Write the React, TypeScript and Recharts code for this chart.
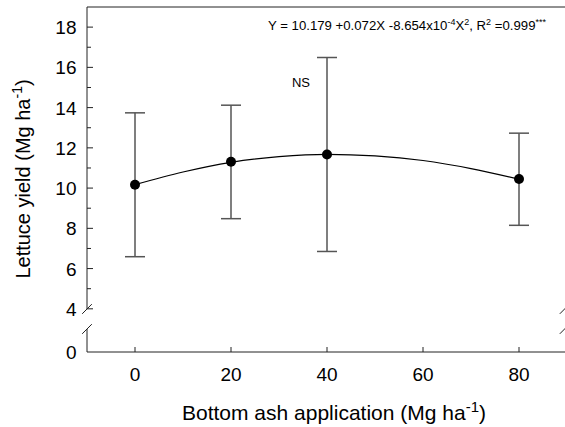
import React from 'react';
import {
  ComposedChart,
  Line,
  Scatter,
  ErrorBar,
  XAxis,
  YAxis,
  ReferenceLine,
} from 'recharts';

// ---- data ----
const doses = [0, 20, 40, 80];
const yieldMeans = [10.17, 11.31, 11.67, 10.45];
const yieldLow = [6.59, 8.48, 6.85, 8.15];
const yieldHigh = [13.74, 14.12, 16.49, 12.73];

const fitX = [0, 10, 20, 30, 40, 50, 60, 70, 80];
const fitY = [10.17, 10.8, 11.28, 11.56, 11.68, 11.6, 11.37, 10.97, 10.44];

const xTicks = [0, 20, 40, 60, 80];
const yTickValues = [0, 4, 5, 6, 7, 8, 9, 10, 11, 12, 13, 14, 15, 16, 17, 18];
const yTickLabels = ['0', '4', '', '6', '', '8', '', '10', '', '12', '', '14', '', '16', '', '18'];

// ---- broken y axis: 0..4 is compressed into GAP display units ----
const BREAK_VALUE = 4;
const GAP = 2.146;
const Y_TOP = 19;
const tf = (v: number) => (v >= BREAK_VALUE ? v - BREAK_VALUE + GAP : (v * GAP) / BREAK_VALUE);
const YMAX = tf(Y_TOP);
const BREAK_HI = 2.137;
const BREAK_LO = 1.143;

const X_MIN = -10;
const X_MAX = 90;

const meanData = doses.map((d, i) => ({
  x: d,
  y: tf(yieldMeans[i]),
  err: [yieldMeans[i] - yieldLow[i], yieldHigh[i] - yieldMeans[i]],
}));
const fitData = fitX.map((d, i) => ({ x: d, y: tf(fitY[i]) }));

const FONT = '"Liberation Sans", Arial, Helvetica, sans-serif';
const AXIS = '#222';

const YTick = (props: any) => {
  const { x, y, index } = props;
  const label = yTickLabels[index];
  const major = label !== '';
  return (
    <g>
      {yTickValues[index] !== 0 && (
        <line x1={x} x2={x + (major ? 6 : 4)} y1={y} y2={y} stroke={AXIS} strokeWidth={1} />
      )}
      {major && (
        <text x={x - 10.5} y={y + 7} textAnchor="end" fontSize={19} fontFamily={FONT} fill="#000">
          {label}
        </text>
      )}
    </g>
  );
};

const XTick = (props: any) => {
  const { x, y, payload } = props;
  return (
    <g>
      <line x1={x} x2={x} y1={y} y2={y - 5} stroke={AXIS} strokeWidth={1} />
      <text x={x} y={y + 28.5} textAnchor="middle" fontSize={19} fontFamily={FONT} fill="#000">
        {payload.value}
      </text>
    </g>
  );
};

const slash = (xc: number, yc: number, key: string) => (
  <ReferenceLine
    key={key}
    segment={[
      { x: xc - 1, y: yc - 0.24 },
      { x: xc + 1, y: yc + 0.24 },
    ]}
    ifOverflow="visible"
    stroke={AXIS}
    strokeWidth={1}
  />
);

export default function App() {
  return (
    <div style={{ position: 'relative', width: 565, height: 427, overflow: 'hidden', background: '#fff' }}>
      <style>{`body{margin:0;}`}</style>
      <ComposedChart width={600} height={427} margin={{ top: 7, right: 33, bottom: 0, left: 0 }}>
        <XAxis
          type="number"
          dataKey="x"
          domain={[X_MIN, X_MAX]}
          allowDataOverflow
          ticks={xTicks}
          interval={0}
          height={75}
          tickSize={0}
          tickMargin={0}
          tickLine={false}
          axisLine={{ stroke: AXIS, strokeWidth: 1 }}
          tick={<XTick />}
        />
        <YAxis
          type="number"
          dataKey="y"
          domain={[0, YMAX]}
          allowDataOverflow
          ticks={yTickValues.map(tf)}
          interval={0}
          width={87}
          tickSize={0}
          tickMargin={0}
          tickLine={false}
          axisLine={false}
          tick={<YTick />}
        />
        {/* frame: top line, left and right axis lines with breaks */}
        <ReferenceLine y={YMAX} stroke={AXIS} strokeWidth={1} ifOverflow="visible" />
        <ReferenceLine segment={[{ x: X_MIN, y: BREAK_HI }, { x: X_MIN, y: YMAX }]} stroke={AXIS} strokeWidth={1} ifOverflow="visible" />
        <ReferenceLine segment={[{ x: X_MIN, y: 0 }, { x: X_MIN, y: BREAK_LO }]} stroke={AXIS} strokeWidth={1} ifOverflow="visible" />
        <ReferenceLine segment={[{ x: X_MAX, y: BREAK_HI }, { x: X_MAX, y: YMAX }]} stroke={AXIS} strokeWidth={1} ifOverflow="visible" />
        <ReferenceLine segment={[{ x: X_MAX, y: 0 }, { x: X_MAX, y: BREAK_LO }]} stroke={AXIS} strokeWidth={1} ifOverflow="visible" />
        {slash(X_MIN, BREAK_HI, 'l1')}
        {slash(X_MIN, BREAK_LO, 'l2')}
        {slash(X_MAX - 0.5, BREAK_HI, 'r1')}
        {slash(X_MAX - 0.5, BREAK_LO, 'r2')}
        <Line
          data={fitData}
          dataKey="y"
          type="monotone"
          stroke="#000"
          strokeWidth={1.2}
          dot={false}
          activeDot={false}
          isAnimationActive={false}
        />
        <Scatter
          data={meanData}
          dataKey="y"
          isAnimationActive={false}
          shape={(p: any) => <circle cx={p.cx} cy={p.cy} r={5} fill="#000" />}
        >
          <ErrorBar dataKey="err" direction="y" width={10} stroke="#555" strokeWidth={1.5} isAnimationActive={false} />
        </Scatter>
      </ComposedChart>
      <svg
        width={565}
        height={427}
        style={{ position: 'absolute', left: 0, top: 0, pointerEvents: 'none' }}
        fontFamily={FONT}
      >
        <text x={268} y={30} fontSize={13.2} fill="#000">
          Y = 10.179 +0.072X -8.654x10
          <tspan dy={-5} fontSize={9}>-4</tspan>
          <tspan dy={5}>X</tspan>
          <tspan dy={-5} fontSize={9}>2</tspan>
          <tspan dy={5}>, R</tspan>
          <tspan dy={-5} fontSize={9}>2</tspan>
          <tspan dy={5}> =0.999</tspan>
          <tspan dy={-5} fontSize={9}>***</tspan>
        </text>
        <text x={301} y={87} fontSize={13} textAnchor="middle" fill="#000">NS</text>
        <text x={334} y={420} fontSize={21} textAnchor="middle" fill="#000">
          Bottom ash application (Mg ha
          <tspan dy={-8} fontSize={15}>-1</tspan>
          <tspan dy={8}>)</tspan>
        </text>
        <text transform="translate(29.5,179) rotate(-90)" fontSize={20} textAnchor="middle" fill="#000">
          Lettuce yield (Mg ha
          <tspan dy={-8} fontSize={14}>-1</tspan>
          <tspan dy={8}>)</tspan>
        </text>
      </svg>
    </div>
  );
}
